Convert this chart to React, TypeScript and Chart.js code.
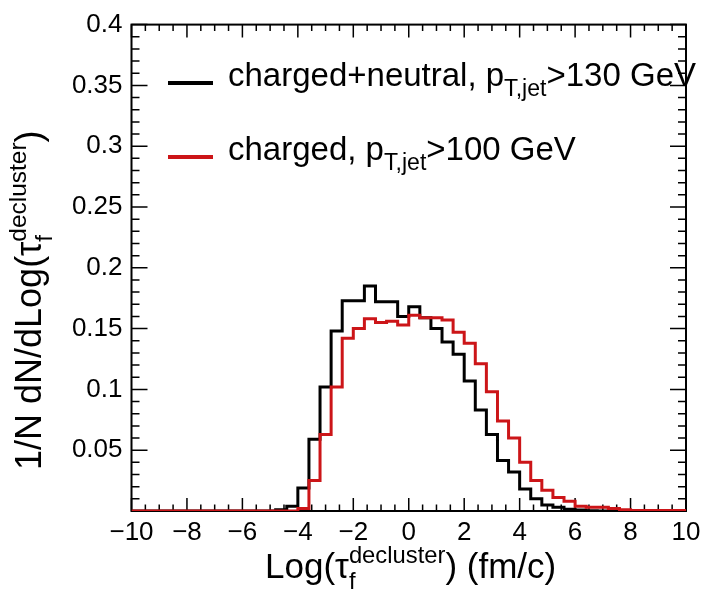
import React, { useEffect, useRef } from 'react';
import { Chart, registerables } from 'chart.js';

Chart.register(...registerables);

// ---- Data ----
const X_MIN = -10;
const X_MAX = 10;
const BIN_WIDTH = 0.4;
const Y_MIN = 0;
const Y_MAX = 0.4;

const X_TICK_STEP = 2;
const X_MINOR_STEP = 0.5;
const Y_TICK_STEP = 0.05;
const Y_MINOR_STEP = 0.01;

const SERIES_LABELS = ['charged+neutral', 'charged'];
const PT_CUTS = ['>130 GeV', '>100 GeV'];

// 50 bins from -10 to 10 (width 0.4), values per bin
const chargedNeutral = [
  0, 0, 0, 0, 0, 0, 0, 0, 0, 0,
  0, 0, 0, 0.001, 0.004, 0.019, 0.059, 0.102, 0.148, 0.173,
  0.173, 0.185, 0.172, 0.172, 0.16, 0.168, 0.159, 0.15, 0.139, 0.129,
  0.107, 0.083, 0.063, 0.0415, 0.032, 0.018, 0.01, 0.005, 0.003, 0.0015,
  0.0008, 0.0003, 0, 0, 0, 0, 0, 0, 0, 0,
];
const chargedOnly = [
  0, 0, 0, 0, 0, 0, 0, 0, 0, 0,
  0, 0, 0, 0, 0, 0.002, 0.025, 0.063, 0.102, 0.142,
  0.15, 0.158, 0.155, 0.156, 0.153, 0.161, 0.159, 0.159, 0.157, 0.147,
  0.138, 0.121, 0.098, 0.074, 0.06, 0.04, 0.025, 0.017, 0.011, 0.008,
  0.004, 0.003, 0.003, 0.002, 0.001, 0.0005, 0.0005, 0.0005, 0.0005, 0.0005,
];

const COLORS = ['#000000', '#cc1518'];

const FONT = '"Liberation Sans", Arial, Helvetica, sans-serif';

type Seg = { t?: string; sub?: string; sup?: string };

function toSteps(values: number[]) {
  const pts = values.map((v, i) => ({ x: X_MIN + i * BIN_WIDTH, y: v }));
  pts.push({ x: X_MAX, y: values[values.length - 1] });
  return pts;
}

function segWidth(ctx: CanvasRenderingContext2D, s: Seg, size: number, ratio: number) {
  if (s.t !== undefined) {
    ctx.font = `${size}px ${FONT}`;
    return ctx.measureText(s.t).width;
  }
  ctx.font = `${size * ratio}px ${FONT}`;
  const a = s.sub ? ctx.measureText(s.sub).width : 0;
  const b = s.sup ? ctx.measureText(s.sup).width : 0;
  return Math.max(a, b);
}

function drawRich(ctx: CanvasRenderingContext2D, segs: Seg[], x: number, y: number, size: number, ratio: number) {
  ctx.textBaseline = 'alphabetic';
  ctx.textAlign = 'left';
  let cx = x;
  for (const s of segs) {
    const w = segWidth(ctx, s, size, ratio);
    if (s.t !== undefined) {
      ctx.font = `${size}px ${FONT}`;
      ctx.fillText(s.t, cx, y);
    } else {
      ctx.font = `${size * ratio}px ${FONT}`;
      if (s.sub) ctx.fillText(s.sub, cx, y + size * 0.3);
      if (s.sup) ctx.fillText(s.sup, cx, y - size * 0.42);
    }
    cx += w;
  }
  return cx - x;
}

const rootPlugin = {
  id: 'rootStyle',
  beforeDatasetsDraw(chart: any) {
    const ctx: CanvasRenderingContext2D = chart.ctx;
    const { left, right, top, bottom } = chart.chartArea;
    const xs = chart.scales.x;
    const ys = chart.scales.y;
    ctx.save();
    ctx.strokeStyle = '#000';
    ctx.lineWidth = 2;
    ctx.strokeRect(left, top, right - left, bottom - top);
    ctx.lineWidth = 1.5;
    ctx.beginPath();
    const nx = Math.round((X_MAX - X_MIN) / X_MINOR_STEP);
    for (let i = 0; i <= nx; i++) {
      const v = X_MIN + i * X_MINOR_STEP;
      const major = Math.abs(v / X_TICK_STEP - Math.round(v / X_TICK_STEP)) < 1e-6;
      const len = major ? 13 : 6.5;
      const px = xs.getPixelForValue(v);
      ctx.moveTo(px, bottom);
      ctx.lineTo(px, bottom - len);
      ctx.moveTo(px, top);
      ctx.lineTo(px, top + len);
    }
    const ny = Math.round((Y_MAX - Y_MIN) / Y_MINOR_STEP);
    for (let i = 0; i <= ny; i++) {
      const v = Y_MIN + i * Y_MINOR_STEP;
      const major = i % Math.round(Y_TICK_STEP / Y_MINOR_STEP) === 0;
      const len = major ? 16 : 8;
      const py = ys.getPixelForValue(v);
      ctx.moveTo(left, py);
      ctx.lineTo(left + len, py);
      ctx.moveTo(right, py);
      ctx.lineTo(right - len, py);
    }
    ctx.stroke();
    ctx.restore();
  },
  afterDraw(chart: any) {
    const ctx: CanvasRenderingContext2D = chart.ctx;
    ctx.save();
    ctx.fillStyle = '#000';
    // Legend
    const rows = [
      { y: 83, base: 86, color: COLORS[0], label: SERIES_LABELS[0], cut: PT_CUTS[0] },
      { y: 157, base: 160, color: COLORS[1], label: SERIES_LABELS[1], cut: PT_CUTS[1] },
    ];
    for (const r of rows) {
      ctx.strokeStyle = r.color;
      ctx.lineWidth = 4;
      ctx.beginPath();
      ctx.moveTo(168, r.y);
      ctx.lineTo(213, r.y);
      ctx.stroke();
      ctx.fillStyle = '#000';
      drawRich(ctx, [{ t: `${r.label}, p` }, { sub: 'T,jet' }, { t: r.cut }], 228, r.base, 33, 0.7);
    }
    // X title
    drawRich(ctx, [{ t: 'Log(τ' }, { sub: 'f', sup: 'decluster' }, { t: ') (fm/c)' }], 265, 578, 35, 0.68);
    // Y title
    ctx.translate(41, 470);
    ctx.rotate(-Math.PI / 2);
    drawRich(ctx, [{ t: '1/N dN/dLog(τ' }, { sub: 'f', sup: 'decluster' }, { t: ')' }], 0, 0, 36, 0.68);
    ctx.restore();
  },
};

export default function App() {
  const ref = useRef<HTMLCanvasElement | null>(null);
  useEffect(() => {
    if (!ref.current) return;
    const chart = new Chart(ref.current, {
      type: 'line',
      data: {
        datasets: [
          {
            label: SERIES_LABELS[1],
            data: toSteps(chargedOnly),
            borderColor: COLORS[1],
            borderWidth: 3,
            stepped: 'before',
            pointRadius: 0,
            fill: false,
            order: 0,
          },
          {
            label: SERIES_LABELS[0],
            data: toSteps(chargedNeutral),
            borderColor: COLORS[0],
            borderWidth: 3,
            stepped: 'before',
            pointRadius: 0,
            fill: false,
            order: 1,
          },
        ],
      },
      options: {
        animation: false,
        responsive: false,
        devicePixelRatio: 1,
        layout: { padding: { top: 19, right: 29, bottom: 0, left: 0 } },
        plugins: { legend: { display: false }, tooltip: { enabled: false } },
        scales: {
          x: {
            type: 'linear',
            min: X_MIN,
            max: X_MAX,
            grid: { display: false, drawTicks: false },
            border: { display: false },
            afterFit: (s: any) => { s.height = 78; },
            ticks: {
              stepSize: X_TICK_STEP,
              autoSkip: false,
              maxRotation: 0,
              padding: 6,
              color: '#000',
              font: { family: FONT, size: 26 },
              callback: (v: any) => String(Math.round(Number(v))).replace('-', '\u2212'),
            },
          },
          y: {
            type: 'linear',
            min: Y_MIN,
            max: Y_MAX,
            grid: { display: false, drawTicks: false },
            border: { display: false },
            afterFit: (s: any) => { s.width = 131.5; },
            ticks: {
              stepSize: Y_TICK_STEP,
              padding: 9,
              color: '#000',
              font: { family: FONT, size: 26 },
              callback: (v: any) => {
                const r = Math.round(Number(v) * 100) / 100;
                return r === 0 ? '' : String(r);
              },
            },
          },
        },
      },
      plugins: [rootPlugin],
    });
    return () => chart.destroy();
  }, []);
  return (
    <div style={{ position: 'fixed', left: 0, top: 0, width: 715, height: 589, background: '#fff' }}>
      <canvas ref={ref} width={715} height={589} style={{ width: 715, height: 589, display: 'block' }} />
    </div>
  );
}
